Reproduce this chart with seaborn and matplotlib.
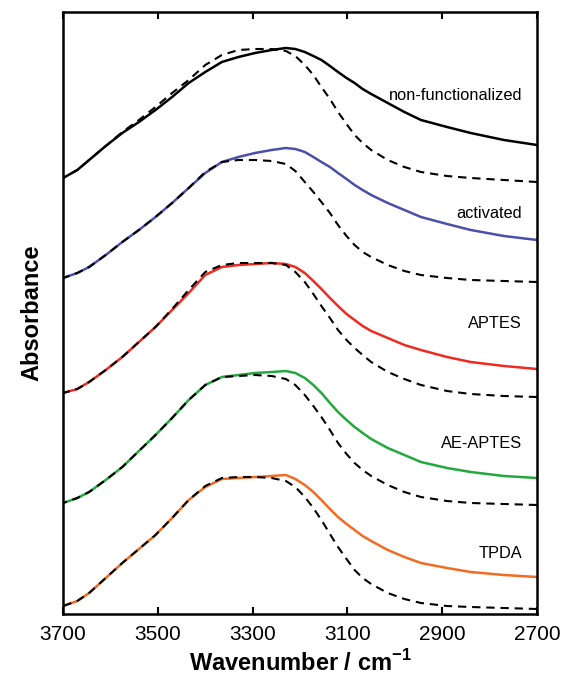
import seaborn as sns
import matplotlib.pyplot as plt

# wavenumber grid (cm^-1) shared by all spectra
wavenumber = [3700, 3670, 3645, 3610, 3575, 3540, 3505, 3470, 3435, 3400,
              3365, 3330, 3295, 3260, 3230, 3210, 3190, 3172, 3155, 3137,
              3120, 3102, 3085, 3068, 3050, 3015, 2980, 2945, 2890, 2840,
              2770, 2700]

# offset absorbance (arbitrary units), measured spectra
non_functionalized = [436, 444, 454, 468, 481, 492, 504, 517, 531, 542,
                      552, 557, 561, 564, 566, 565, 562, 558, 554, 548,
                      542, 536, 531, 525, 520, 511, 502, 494, 487, 481,
                      474, 469]
activated = [336, 341, 347, 359, 372, 384, 397, 411, 426, 441,
             452, 457, 461, 464, 466, 465, 462, 457, 452, 447,
             441, 435, 429, 424, 419, 411, 404, 397, 390, 384,
             378, 374]
aptes = [221, 225, 232, 244, 257, 272, 287, 304, 321, 339,
         347, 349, 350, 351, 350, 347, 341, 333, 325, 316,
         308, 300, 294, 288, 283, 276, 269, 264, 257, 252,
         248, 245]
ae_aptes = [111, 116, 122, 134, 147, 163, 179, 196, 214, 229,
            237, 239, 241, 242, 243, 241, 236, 229, 221, 211,
            202, 194, 187, 181, 175, 166, 159, 152, 146, 142,
            138, 136]
tpda = [8, 13, 21, 36, 51, 65, 79, 96, 114, 127,
        135, 136, 137, 138, 139, 135, 129, 122, 114, 105,
        97, 90, 84, 78, 73, 64, 57, 51, 46, 42,
        39, 37]

# dashed reference spectra under each measured one
ref_non_functionalized = [436, 444, 454, 468, 482, 494, 507, 521, 534, 549,
                          559, 564, 565, 565, 563, 558, 549, 539, 527, 515,
                          502, 490, 479, 471, 464, 454, 447, 442, 438, 436,
                          434, 432]
ref_activated = [336, 341, 347, 359, 372, 384, 397, 411, 426, 442,
                 452, 454, 454, 453, 450, 443, 432, 422, 412, 401,
                 389, 378, 369, 362, 357, 349, 343, 339, 336, 334,
                 333, 332]
ref_aptes = [221, 225, 232, 244, 257, 272, 287, 305, 324, 342,
             349, 351, 351, 351, 349, 342, 332, 320, 308, 296,
             284, 274, 266, 259, 252, 242, 235, 229, 223, 220,
             218, 217]
ref_ae_aptes = [111, 116, 122, 134, 147, 163, 179, 196, 214, 229,
                237, 238, 239, 238, 235, 229, 219, 208, 197, 184,
                171, 160, 151, 144, 138, 129, 122, 117, 113, 111,
                110, 109]
ref_tpda = [8, 13, 21, 36, 51, 65, 79, 96, 114, 128,
            136, 137, 137, 136, 133, 127, 117, 106, 94, 80,
            67, 55, 44, 36, 30, 21, 15, 11, 8, 7,
            6, 5]

labels = ['non-functionalized', 'activated', 'APTES', 'AE-APTES', 'TPDA']
colors = ['#000000', '#4b4fac', '#ee2a22', '#23a83d', '#f36b22']
label_y = [519, 401, 291, 171, 61]

sns.set_style('ticks')
plt.rcParams['font.family'] = ['Liberation Sans', 'DejaVu Sans']
plt.rcParams.update({'text.color': 'black', 'axes.labelcolor': 'black',
                     'xtick.color': 'black', 'axes.edgecolor': 'black'})

fig = plt.figure(figsize=(5.63, 6.82), dpi=100)
ax = fig.add_axes([0.112, 0.0997, 0.842, 0.8827])

spectra = [non_functionalized, activated, aptes, ae_aptes, tpda]
refs = [ref_non_functionalized, ref_activated, ref_aptes, ref_ae_aptes, ref_tpda]

for spec, ref, lab, col, ly in zip(spectra, refs, labels, colors, label_y):
    sns.lineplot(x=wavenumber, y=spec, color=col, lw=1.8, ax=ax)
    sns.lineplot(x=wavenumber, y=ref, color='black', lw=1.5, ax=ax,
                 linestyle=(0, (4, 2.8)))
    ax.text(2732, ly, lab, ha='right', va='center', fontsize=11.8)

ax.set_xlim(3700, 2700)
ax.set_ylim(0, 602)
ax.set_xticks([3700, 3500, 3300, 3100, 2900, 2700])
ax.set_yticks([])
ax.tick_params(axis='x', direction='in', top=True, length=5, width=1.5,
               labelsize=15, pad=8)
for s in ax.spines.values():
    s.set_linewidth(1.8)
ax.set_xlabel('Wavenumber / cm$^{\\mathregular{-1}}$', fontsize=17,
              fontweight='bold', labelpad=4)
ax.set_ylabel('Absorbance', fontsize=17, fontweight='bold', labelpad=14)

plt.savefig('out.png', dpi=100)
